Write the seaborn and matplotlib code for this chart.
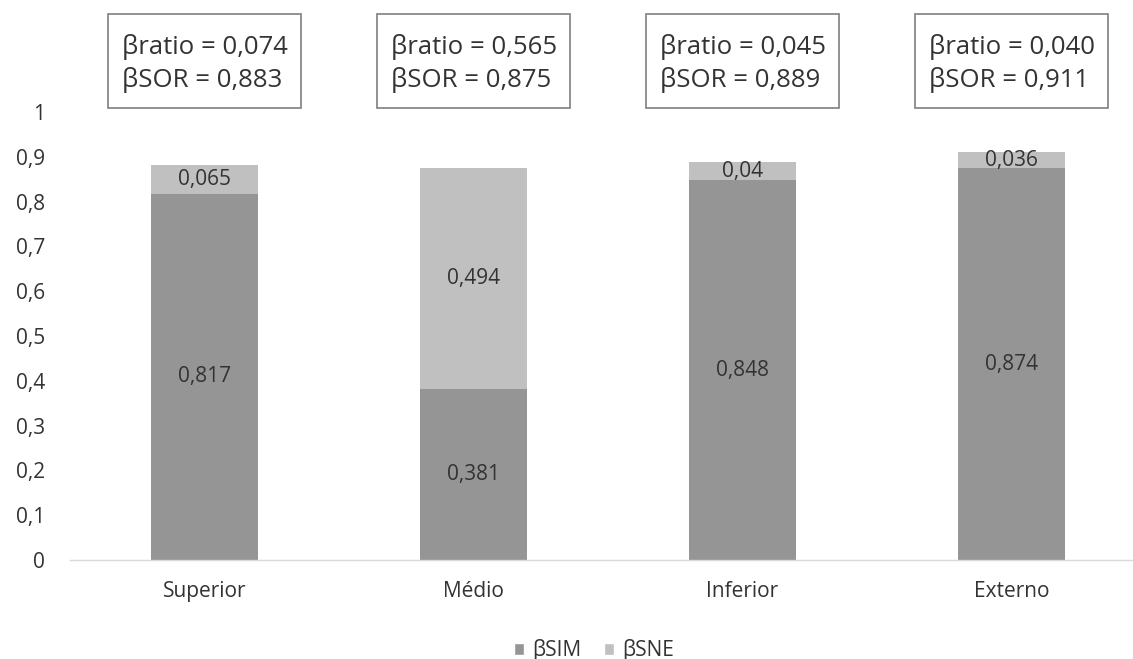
import matplotlib
matplotlib.use("Agg")
import matplotlib.pyplot as plt
from matplotlib.patches import Rectangle, Patch
import seaborn as sns
import pandas as pd

# Beta-diversity partition per stratum
strata = ["Superior", "Médio", "Inferior", "Externo"]
beta_sim = [0.817, 0.381, 0.848, 0.874]
beta_sne = [0.065, 0.494, 0.040, 0.036]
beta_sor = [0.883, 0.875, 0.889, 0.911]
beta_ratio = [0.074, 0.565, 0.045, 0.040]
sim_labels = ["0,817", "0,381", "0,848", "0,874"]
sne_labels = ["0,065", "0,494", "0,04", "0,036"]
yticks = [0, 0.1, 0.2, 0.3, 0.4, 0.5, 0.6, 0.7, 0.8, 0.9, 1]
ytick_labels = ["0", "0,1", "0,2", "0,3", "0,4", "0,5", "0,6", "0,7", "0,8", "0,9", "1"]

def fmt(v):
    return f"{v:.3f}".replace(".", ",")

sns.set_theme(style="white")
plt.rcParams["font.family"] = ["Open Sans", "DejaVu Sans"]

dark = "#959595"
light = "#c0c0c0"
txt = "#333333"

df = pd.DataFrame({"estrato": strata, "sim": beta_sim,
                   "total": [a + b for a, b in zip(beta_sim, beta_sne)]})

W, H = 1133, 659
fig = plt.figure(figsize=(W / 100, H / 100), dpi=100)
ax = fig.add_axes([70 / W, (H - 560) / H, 1076 / W, 448 / H])

sns.barplot(data=df, x="estrato", y="total", color=light, width=0.4,
            saturation=1, linewidth=0, ax=ax)
sns.barplot(data=df, x="estrato", y="sim", color=dark, width=0.4,
            saturation=1, linewidth=0, ax=ax)

ax.set_xlim(-0.5, 3.5)
ax.set_ylim(0, 1)
ax.set_yticks(yticks)
ax.set_yticklabels(ytick_labels)
ax.set_xlabel("")
ax.set_ylabel("")
for s in ["top", "right", "left"]:
    ax.spines[s].set_visible(False)
ax.spines["bottom"].set_color("#d9d9d9")
ax.spines["bottom"].set_linewidth(1)
ax.tick_params(axis="y", length=0, labelsize=15, labelcolor=txt, pad=18)
ax.tick_params(axis="x", length=0, labelsize=15, labelcolor=txt, pad=15)

for i in range(len(strata)):
    ax.text(i, beta_sim[i] / 2, sim_labels[i], ha="center", va="center",
            fontsize=15, color=txt)
    ax.text(i, beta_sim[i] + beta_sne[i] / 2, sne_labels[i], ha="center",
            va="center", fontsize=15, color=txt)
    # annotation box above each bar
    bw, y0, bh = 0.714, 1.009, 0.21
    ax.add_patch(Rectangle((i - bw / 2, y0), bw, bh, facecolor="white",
                           edgecolor="#7f7f7f", linewidth=1.2,
                           clip_on=False, zorder=3))
    ax.text(i - bw / 2 + 0.052, 1.145, f"βratio = {fmt(beta_ratio[i])}",
            ha="left", va="center", fontsize=18.5, color=txt, zorder=4)
    ax.text(i - bw / 2 + 0.052, 1.071, f"βSOR = {fmt(beta_sor[i])}",
            ha="left", va="center", fontsize=18.5, color=txt, zorder=4)

handles = [Patch(facecolor=dark, label="βSIM"), Patch(facecolor=light, label="βSNE")]
fig.legend(handles=handles, loc="center", bbox_to_anchor=(594 / W, 1 - 650 / H),
           ncol=2, frameon=False, fontsize=15, handlelength=0.5, handleheight=0.5,
           handletextpad=0.4, columnspacing=1.05, labelcolor=txt,
           borderpad=0)

fig.savefig("out.png", dpi=100)
